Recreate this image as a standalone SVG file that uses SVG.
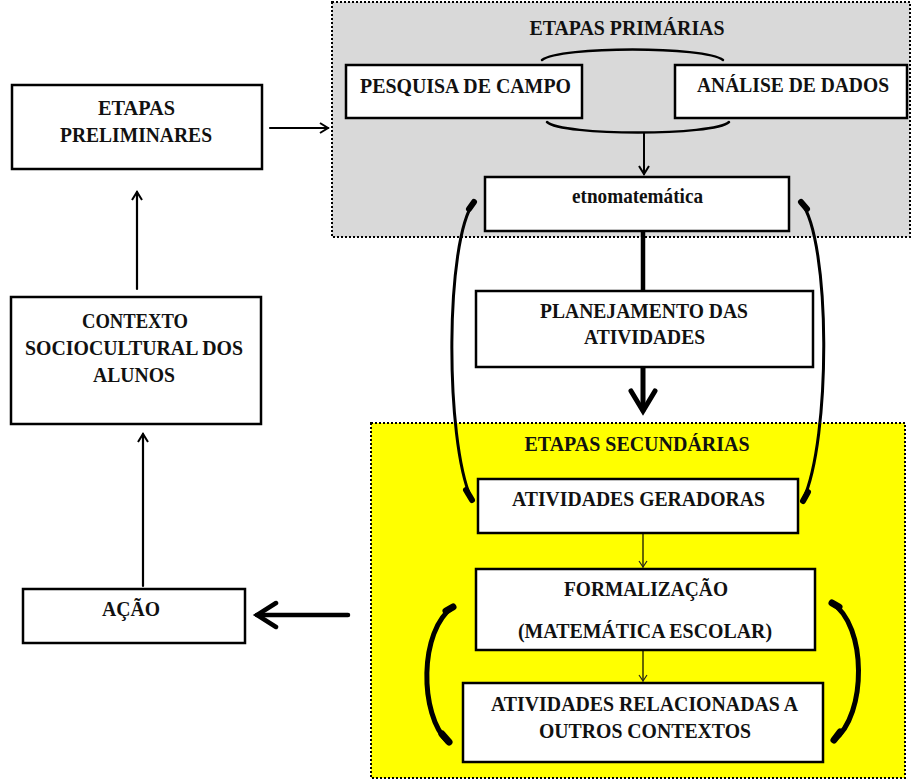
<svg xmlns="http://www.w3.org/2000/svg" width="912" height="779" viewBox="0 0 912 779">
<style>
.box{fill:#fff;stroke:#000;stroke-width:2.5}
.t{font-family:"Liberation Serif","Times New Roman",serif;font-weight:bold;font-size:22px;fill:#111;text-anchor:middle}
.area{stroke:#000;stroke-width:2;stroke-dasharray:2 2}
.ln{fill:none;stroke:#000;stroke-linecap:round}
</style>
<defs>
<marker id="ah" markerWidth="12" markerHeight="12" refX="10" refY="6" orient="auto" markerUnits="userSpaceOnUse">
<path d="M2 1 L10 6 L2 11" fill="none" stroke="#000" stroke-width="2"/>
</marker>
<marker id="ahs" markerWidth="10" markerHeight="10" refX="8" refY="5" orient="auto" markerUnits="userSpaceOnUse">
<path d="M2 1 L8 5 L2 9" fill="none" stroke="#222" stroke-width="1.2"/>
</marker>
</defs>
<rect width="912" height="779" fill="#fff"/>
<g id="area-primarias">
<rect class="area" x="332" y="2" width="578" height="235" fill="#d9d9d9"/>
<text class="t" x="627" y="35" textLength="195" lengthAdjust="spacingAndGlyphs">ETAPAS PRIMÁRIAS</text>
</g>
<g id="area-secundarias">
<rect class="area" x="371" y="423" width="534" height="355" fill="#ffff00"/>
<text class="t" x="637" y="451" textLength="225" lengthAdjust="spacingAndGlyphs">ETAPAS SECUNDÁRIAS</text>
</g>
<g id="connectors">
<path class="ln" stroke-width="2.5" d="M542 60 C560 46 705 46 723 60"/>
<path class="ln" stroke-width="2.5" d="M547 122 C562 136 714 136 729 122"/>
<line class="ln" stroke-width="2" x1="644" y1="133" x2="644" y2="174" marker-end="url(#ah)"/>
<line class="ln" stroke-width="4.5" stroke-linecap="butt" x1="643" y1="231" x2="643" y2="291"/>
<line class="ln" stroke-width="5" stroke-linecap="butt" x1="643" y1="367" x2="643" y2="410"/>
<path class="ln" stroke-width="5" d="M631 391 L643 411 L655 391"/>
<line class="ln" stroke-width="1.2" stroke="#222" x1="643" y1="533" x2="643" y2="567" marker-end="url(#ahs)"/>
<line class="ln" stroke-width="1.2" stroke="#222" x1="643" y1="650" x2="643" y2="681" marker-end="url(#ahs)"/>
<path class="ln" stroke-width="3" d="M474 202 C445 240 445 440 471 498"/>
<path class="ln" stroke-width="6" d="M474 202 L469 209"/>
<path class="ln" stroke-width="6" d="M466 490 L472 500"/>
<path class="ln" stroke-width="3" d="M801 202 C831 240 831 440 803 500"/>
<path class="ln" stroke-width="6" d="M801 202 L807 209"/>
<path class="ln" stroke-width="6" d="M808 492 L803 501"/>
<path class="ln" stroke-width="5" d="M453 607 C419 630 419 715 448 742"/>
<path class="ln" stroke-width="7" d="M453 607 L446 611"/>
<path class="ln" stroke-width="7" d="M442 734 L449 742"/>
<path class="ln" stroke-width="5" d="M832 603 C867 625 867 715 834 740"/>
<path class="ln" stroke-width="7" d="M832 603 L839 607"/>
<path class="ln" stroke-width="7" d="M840 732 L834 740"/>
<line class="ln" stroke-width="2.2" x1="270" y1="128" x2="328" y2="128" marker-end="url(#ah)"/>
<line class="ln" stroke-width="2.2" x1="137" y1="289" x2="137" y2="192" marker-end="url(#ah)"/>
<line class="ln" stroke-width="2.2" x1="143" y1="586" x2="143" y2="434" marker-end="url(#ah)"/>
<line class="ln" stroke-width="4.5" stroke-linecap="butt" x1="348" y1="615" x2="257" y2="615"/>
<path class="ln" stroke-width="4.5" d="M276 603 L257 615 L276 627"/>
</g>
<g id="pesquisa">
<rect class="box" x="346" y="65" width="236" height="53"/>
<text class="t" x="465.5" y="93" textLength="211" lengthAdjust="spacingAndGlyphs">PESQUISA DE CAMPO</text>
</g>
<g id="analise">
<rect class="box" x="675" y="65" width="232" height="53"/>
<text class="t" x="793" y="92" textLength="192" lengthAdjust="spacingAndGlyphs">ANÁLISE DE DADOS</text>
</g>
<g id="etnomatematica">
<rect class="box" x="485" y="177" width="304" height="54"/>
<text class="t" x="637.5" y="203" font-size="20" textLength="131" lengthAdjust="spacingAndGlyphs">etnomatemática</text>
</g>
<g id="planejamento">
<rect class="box" x="476" y="291" width="337" height="76"/>
<text class="t" x="644" y="318" textLength="208" lengthAdjust="spacingAndGlyphs">PLANEJAMENTO DAS</text>
<text class="t" x="644.5" y="344" textLength="121" lengthAdjust="spacingAndGlyphs">ATIVIDADES</text>
</g>
<g id="geradoras">
<rect class="box" x="478" y="479" width="320" height="54"/>
<text class="t" x="638.5" y="506" textLength="253" lengthAdjust="spacingAndGlyphs">ATIVIDADES GERADORAS</text>
</g>
<g id="formalizacao">
<rect class="box" x="476" y="569" width="339" height="81"/>
<text class="t" x="646" y="596" textLength="164" lengthAdjust="spacingAndGlyphs">FORMALIZAÇÃO</text>
<text class="t" x="645" y="638" textLength="254" lengthAdjust="spacingAndGlyphs">(MATEMÁTICA ESCOLAR)</text>
</g>
<g id="relacionadas">
<rect class="box" x="463" y="683" width="360" height="79"/>
<text class="t" x="644.5" y="711" textLength="307" lengthAdjust="spacingAndGlyphs">ATIVIDADES RELACIONADAS A</text>
<text class="t" x="645" y="738" textLength="212" lengthAdjust="spacingAndGlyphs">OUTROS CONTEXTOS</text>
</g>
<g id="preliminares">
<rect class="box" x="12" y="85" width="250" height="84"/>
<text class="t" x="136.5" y="115" textLength="77" lengthAdjust="spacingAndGlyphs">ETAPAS</text>
<text class="t" x="136" y="142" textLength="152" lengthAdjust="spacingAndGlyphs">PRELIMINARES</text>
</g>
<g id="contexto">
<rect class="box" x="11" y="297" width="250" height="127"/>
<text class="t" x="135" y="328" textLength="106" lengthAdjust="spacingAndGlyphs">CONTEXTO</text>
<text class="t" x="134" y="355" textLength="218" lengthAdjust="spacingAndGlyphs">SOCIOCULTURAL DOS</text>
<text class="t" x="134" y="382" textLength="82" lengthAdjust="spacingAndGlyphs">ALUNOS</text>
</g>
<g id="acao">
<rect class="box" x="23" y="589" width="222" height="54"/>
<text class="t" x="131" y="616" textLength="58" lengthAdjust="spacingAndGlyphs">AÇÃO</text>
</g>
</svg>
